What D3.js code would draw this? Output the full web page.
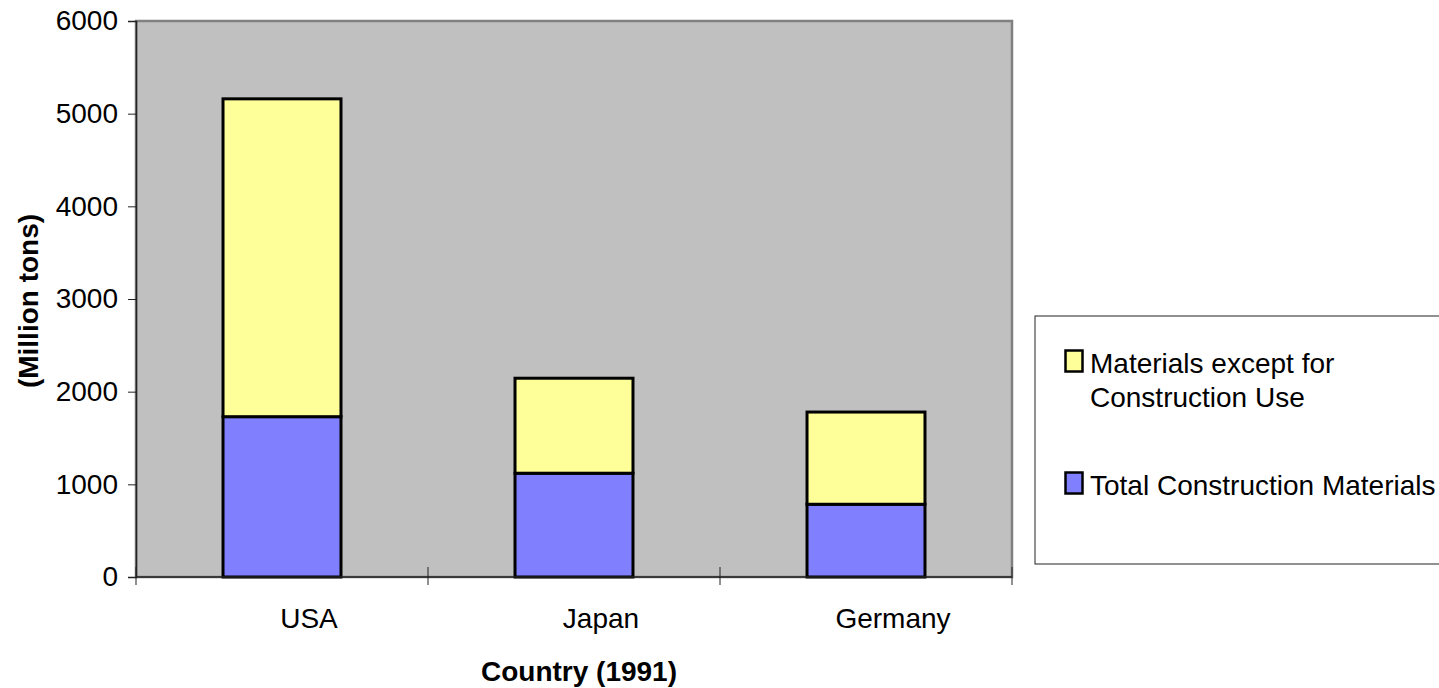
<!DOCTYPE html>
<html>
<head>
<meta charset="utf-8">
<script src="https://cdn.jsdelivr.net/npm/d3@7"></script>
<style>
  html, body { margin: 0; padding: 0; background: #fff; }
  svg { display: block; font-family: 'Liberation Sans', Arial, sans-serif; }
</style>
</head>
<body>
<div id="chart"></div>
<script>
const categories = ['USA', 'Japan', 'Germany'];
const construction = [1730, 1120, 785];
const exceptConstruction = [3430, 1025, 995];
const yTicks = [0, 1000, 2000, 3000, 4000, 5000, 6000];
const seriesNames = ['Materials except for Construction Use', 'Total Construction Materials'];

const W = 1439, H = 688;
const plot = { left: 136, right: 1012, top: 21, bottom: 577 };
const FONT = 28;

const svg = d3.select('#chart').append('svg')
  .attr('width', W)
  .attr('height', H);

const x = d3.scaleBand()
  .domain(categories)
  .range([plot.left, plot.right])
  .paddingInner(0.596)
  .paddingOuter(0.298);

const y = d3.scaleLinear()
  .domain([0, 6000])
  .range([plot.bottom, plot.top]);

// plot area
svg.append('rect')
  .attr('x', plot.left)
  .attr('y', plot.top)
  .attr('width', plot.right - plot.left)
  .attr('height', plot.bottom - plot.top)
  .attr('fill', '#c0c0c0')
  .attr('stroke', '#808080')
  .attr('stroke-width', 2.5);

// stacked bars
const rows = categories.map((c, i) => ({ country: c, construction: construction[i], other: exceptConstruction[i] }));
const stacked = d3.stack().keys(['construction', 'other'])(rows);
const fills = { construction: '#8080ff', other: '#ffff99' };

svg.append('g')
  .selectAll('g')
  .data(stacked)
  .join('g')
  .attr('fill', (s) => fills[s.key])
  .selectAll('rect')
  .data((s) => s)
  .join('rect')
  .attr('x', (d) => x(d.data.country))
  .attr('y', (d) => y(d[1]))
  .attr('width', x.bandwidth())
  .attr('height', (d) => y(d[0]) - y(d[1]))
  .attr('stroke', '#000')
  .attr('stroke-width', 3);

// y axis
const yAxis = svg.append('g')
  .attr('transform', `translate(${plot.left},0)`)
  .call(d3.axisLeft(y).tickValues(yTicks).tickSize(8).tickPadding(10).tickFormat(d3.format('d')));
yAxis.select('.domain').attr('stroke', '#222').attr('stroke-width', 1.5);
yAxis.selectAll('.tick line').attr('stroke', '#222');
yAxis.selectAll('text').attr('font-size', FONT).attr('fill', '#000').attr('font-family', 'Liberation Sans');

// x axis: ticks at category boundaries, crossing the axis
const bounds = d3.range(categories.length + 1).map((i) => plot.left + i * x.step());
const xg = svg.append('g');
xg.append('line')
  .attr('x1', plot.left).attr('x2', plot.right)
  .attr('y1', plot.bottom).attr('y2', plot.bottom)
  .attr('stroke', '#222').attr('stroke-width', 1.5);
xg.selectAll('line.tk')
  .data(bounds)
  .join('line')
  .attr('class', 'tk')
  .attr('x1', (d) => d).attr('x2', (d) => d)
  .attr('y1', plot.bottom - 10).attr('y2', plot.bottom + 8)
  .attr('stroke', '#222');
xg.selectAll('text')
  .data(categories)
  .join('text')
  .attr('x', (d) => x(d) + x.bandwidth() / 2 + 27)
  .attr('y', 628)
  .attr('text-anchor', 'middle')
  .attr('font-size', FONT)
  .text((d) => d);

// axis titles
svg.append('text')
  .attr('x', (plot.left + plot.right) / 2 + 5)
  .attr('y', 681)
  .attr('text-anchor', 'middle')
  .attr('font-size', FONT)
  .attr('font-weight', 'bold')
  .text('Country (1991)');

svg.append('text')
  .attr('transform', `translate(38,${(plot.top + plot.bottom) / 2 + 2}) rotate(-90)`)
  .attr('text-anchor', 'middle')
  .attr('font-size', FONT)
  .attr('font-weight', 'bold')
  .text('(Million tons)');

// legend
const legend = svg.append('g');
legend.append('rect')
  .attr('x', 1035).attr('y', 316)
  .attr('width', 420).attr('height', 248)
  .attr('fill', '#fff')
  .attr('stroke', '#222')
  .attr('stroke-width', 1);

const legendItems = [
  { name: seriesNames[0], fill: fills.other, lines: ['Materials except for', 'Construction Use'], y: 350 },
  { name: seriesNames[1], fill: fills.construction, lines: ['Total Construction Materials'], y: 472 }
];
const li = legend.selectAll('g.item')
  .data(legendItems)
  .join('g')
  .attr('class', 'item')
  .attr('transform', (d) => `translate(1065,${d.y})`);
li.append('rect')
  .attr('x', 0.5).attr('y', 0.5)
  .attr('width', 17).attr('height', 21)
  .attr('fill', (d) => d.fill)
  .attr('stroke', '#000')
  .attr('stroke-width', 2.5);
li.append('text')
  .attr('x', 25)
  .attr('y', 23)
  .attr('font-size', FONT)
  .selectAll('tspan')
  .data((d) => d.lines)
  .join('tspan')
  .attr('x', 25)
  .attr('dy', (d, i) => (i === 0 ? 0 : 33.5))
  .text((d) => d);
</script>
</body>
</html>
